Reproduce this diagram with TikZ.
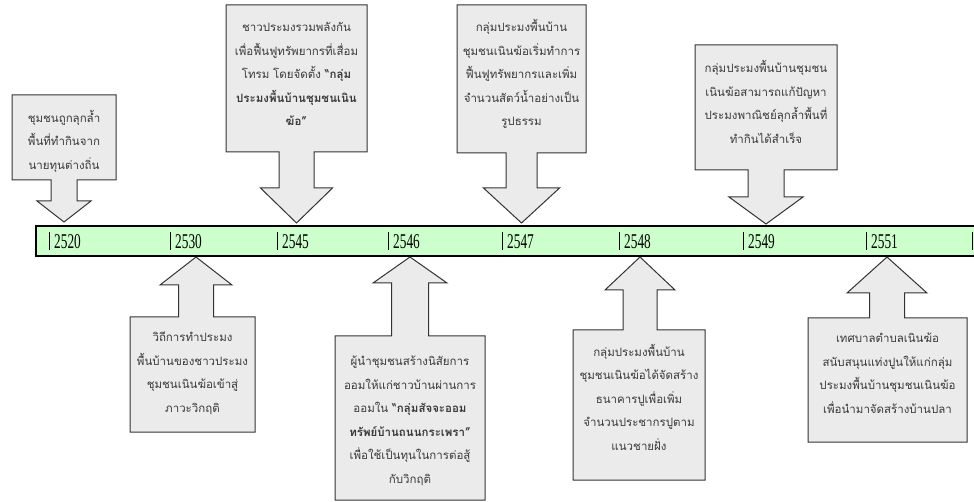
\documentclass[tikz,border=0pt]{standalone}
\usepackage{fontspec}
\usepackage{graphicx}
\setmainfont{Liberation Serif}
\newfontfamily\thaifont[Script=Thai]{Loma}
\definecolor{barfill}{HTML}{CCFFCC}
\definecolor{boxfill}{HTML}{EBEBEB}
\definecolor{boxline}{HTML}{333333}
\definecolor{txtcol}{HTML}{3A3A3A}
% down callout: L R T B centre shafthalf headhalf headY tipY
\newcommand\dcall[9]{%
  \path[callout] (#1,#3) -- (#2,#3) -- (#2,#4) -- ({#5+#6},#4) -- ({#5+#6},#8) -- ({#5+#7},#8)
    -- (#5,#9) -- ({#5-#7},#8) -- ({#5-#6},#8) -- ({#5-#6},#4) -- (#1,#4) -- cycle;}
% up callout: L R T B centre shafthalf headhalf headY tipY
\newcommand\ucall[9]{%
  \path[callout] (#1,#4) -- (#2,#4) -- (#2,#3) -- ({#5+#6},#3) -- ({#5+#6},#8) -- ({#5+#7},#8)
    -- (#5,#9) -- ({#5-#7},#8) -- ({#5-#6},#8) -- ({#5-#6},#3) -- (#1,#3) -- cycle;}
\newcommand\yrlabel[1]{\scalebox{0.95}[1.5]{#1}}
\begin{document}
\begin{tikzpicture}[x=1pt,y=-1pt,
  callout/.style={draw=boxline, line width=1pt, fill=boxfill, line join=miter},
  thaitxt/.style={font=\thaifont\fontsize{11.5}{23.5}\selectfont, text=txtcol, align=center, inner sep=0pt},
  yeartxt/.style={font=\fontsize{14}{14}\selectfont, anchor=west, inner sep=0pt, text=black},
  tickln/.style={draw=black, line width=0.6pt},
  barbox/.style={draw=black, line width=1.2pt, fill=barfill}]
\useasboundingbox (0,0) rectangle (974,502);

% timeline bar
\path[barbox] (36,226) rectangle (980,256);
\foreach \x/\y [count=\i] in {49/2520,170/2530,277/2545,388/2546,502/2547,619/2548,743/2549,866/2551,972/{}}{
  \coordinate (tk\i) at (\x,241);
  \draw[tickln] (\x,232) -- (\x,250);
  \node[yeartxt] (yr\i) at (\x+5,241.5) {\yrlabel{\y}};
}

% top callouts
\dcall{12}{116}{95}{180}{64}{13}{27}{201}{222}
\node[thaitxt] (t1) at (64,141) {ชุมชนถูกลุกล้ำ\\พื้นที่ทำกินจาก\\นายทุนต่างถิ่น};

\dcall{226}{367}{5}{152}{296.5}{17.5}{36}{188}{223}
\node[thaitxt] (t2) at (296.5,74) {ชาวประมงรวมพลังกัน\\เพื่อฟื้นฟูทรัพยากรที่เสื่อม\\โทรม โดยจัดตั้ง \textbf{“กลุ่ม}\\\textbf{ประมงพื้นบ้านชุมชนเนิน}\\\textbf{ฆ้อ”}};

\dcall{457}{586}{5}{153}{521.5}{15.5}{38}{188}{223}
\node[thaitxt] (t3) at (521.5,74) {กลุ่มประมงพื้นบ้าน\\ชุมชนเนินฆ้อเริ่มทำการ\\ฟื้นฟูทรัพยากรและเพิ่ม\\จำนวนสัตว์น้ำอย่างเป็น\\รูปธรรม};

\dcall{695}{837}{45}{170}{766}{18}{37}{197}{224}
\node[thaitxt] (t4) at (766,102) {กลุ่มประมงพื้นบ้านชุมชน\\เนินฆ้อสามารถแก้ปัญหา\\ประมงพาณิชย์ลุกล้ำพื้นที่\\ทำกินได้สำเร็จ};

% bottom callouts
\ucall{130}{255}{317}{432}{196}{17.5}{36}{285}{257}
\node[thaitxt] (t5) at (192.5,373) {วิถีการทำประมง\\พื้นบ้านของชาวประมง\\ชุมชนเนินฆ้อเข้าสู่\\ภาวะวิกฤติ};

\ucall{335}{485}{336}{500}{410}{18.5}{37}{283}{257}
\node[thaitxt] (t6) at (410,421) {ผู้นำชุมชนสร้างนิสัยการ\\ออมให้แก่ชาวบ้านผ่านการ\\ออมใน \textbf{“กลุ่มสัจจะออม}\\\textbf{ทรัพย์บ้านถนนกระเพรา”}\\เพื่อใช้เป็นทุนในการต่อสู้\\กับวิกฤติ};

\ucall{573}{705}{330}{480}{640}{17}{35}{290}{257}
\node[thaitxt] (t7) at (639,397) {กลุ่มประมงพื้นบ้าน\\ชุมชนเนินฆ้อได้จัดสร้าง\\ธนาคารปูเพื่อเพิ่ม\\จำนวนประชากรปูตาม\\แนวชายฝั่ง};

\ucall{808}{967}{318}{442}{887}{17.5}{40}{293}{257}
\node[thaitxt] (t8) at (887.5,373) {เทศบาลตำบลเนินฆ้อ\\สนับสนุนแท่งปูนให้แก่กลุ่ม\\ประมงพื้นบ้านชุมชนเนินฆ้อ\\เพื่อนำมาจัดสร้างบ้านปลา};
\end{tikzpicture}
\end{document}
